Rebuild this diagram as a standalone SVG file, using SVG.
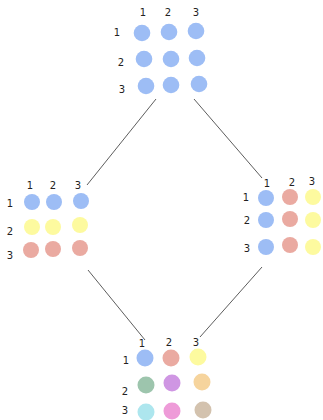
<svg xmlns="http://www.w3.org/2000/svg" width="323" height="420" viewBox="0 0 323 420">
<style>
text{font-family:"DejaVu Sans","Liberation Sans",sans-serif;font-size:10px;fill:#222;text-anchor:middle}
.b{fill:#9dbdf5}.r{fill:#eaaaa1}.y{fill:#fdfa9f}
.g{fill:#9dc5ad}.p{fill:#cf96e3}.o{fill:#f6d49d}
.cy{fill:#ade6ee}.pk{fill:#ee9bd8}.t{fill:#d3c2ae}
line{stroke:#333;stroke-width:0.8}
</style>
<rect width="323" height="420" fill="#fff"/>
<g id="connectors">
<line x1="156" y1="99" x2="87" y2="185"/>
<line x1="194" y1="99" x2="262" y2="178"/>
<line x1="88" y1="270" x2="145" y2="340"/>
<line x1="262" y1="267" x2="200" y2="337"/>
</g>
<g id="top">
<text x="143" y="16">1</text><text x="168" y="16">2</text><text x="196" y="16">3</text>
<text x="117" y="36">1</text><text x="121" y="66">2</text><text x="122" y="93">3</text>
<circle class="b" cx="142" cy="33" r="8.3"/><circle class="b" cx="169" cy="32" r="8.3"/><circle class="b" cx="196" cy="31" r="8.3"/>
<circle class="b" cx="144" cy="59" r="8.3"/><circle class="b" cx="171" cy="59" r="8.3"/><circle class="b" cx="197" cy="58" r="8.3"/>
<circle class="b" cx="146" cy="86" r="8.3"/><circle class="b" cx="171" cy="85" r="8.3"/><circle class="b" cx="199" cy="84" r="8.3"/>
</g>
<g id="left">
<text x="30" y="189">1</text><text x="53" y="189">2</text><text x="78" y="189">3</text>
<text x="10" y="207">1</text><text x="10" y="235">2</text><text x="10" y="259">3</text>
<circle class="b" cx="32" cy="202" r="8"/><circle class="b" cx="54" cy="202" r="8"/><circle class="b" cx="81" cy="201" r="8"/>
<circle class="y" cx="32" cy="227" r="8"/><circle class="y" cx="53" cy="227" r="8"/><circle class="y" cx="80" cy="225" r="8"/>
<circle class="r" cx="31" cy="250" r="8"/><circle class="r" cx="53" cy="249" r="8"/><circle class="r" cx="80" cy="248" r="8"/>
</g>
<g id="right">
<text x="267" y="187">1</text><text x="292" y="186">2</text><text x="312" y="185">3</text>
<text x="246" y="201">1</text><text x="247" y="224">2</text><text x="247" y="252">3</text>
<circle class="b" cx="266" cy="198" r="8"/><circle class="r" cx="290" cy="197" r="8"/><circle class="y" cx="313" cy="197" r="8"/>
<circle class="b" cx="266" cy="220" r="8"/><circle class="r" cx="290" cy="219" r="8"/><circle class="y" cx="313" cy="220" r="8"/>
<circle class="b" cx="266" cy="247" r="8"/><circle class="r" cx="290" cy="245" r="8"/><circle class="y" cx="313" cy="247" r="8"/>
</g>
<g id="bottom">
<text x="142" y="347">1</text><text x="169" y="346">2</text><text x="196" y="346">3</text>
<text x="126" y="364">1</text><text x="125" y="395">2</text><text x="125" y="414">3</text>
<circle class="b" cx="145" cy="358" r="8.5"/><circle class="r" cx="171" cy="358" r="8.5"/><circle class="y" cx="198" cy="357" r="8.5"/>
<circle class="g" cx="146" cy="385" r="8.5"/><circle class="p" cx="172" cy="383" r="8.5"/><circle class="o" cx="202" cy="382" r="8.5"/>
<circle class="cy" cx="146" cy="412" r="8.5"/><circle class="pk" cx="172" cy="411" r="8.5"/><circle class="t" cx="203" cy="410" r="8.5"/>
</g>
</svg>
